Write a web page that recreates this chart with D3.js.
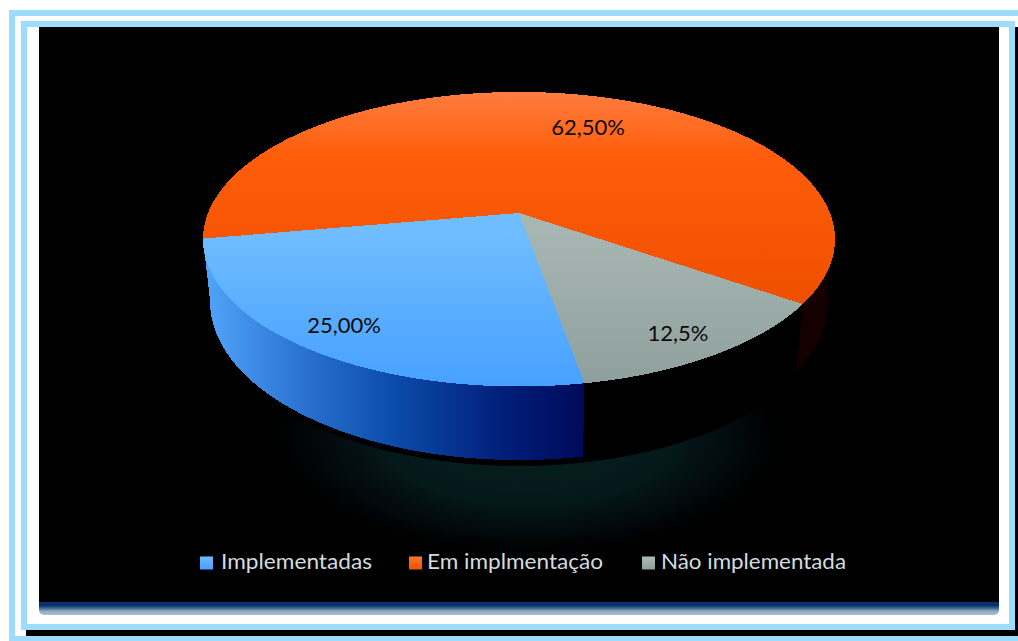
<!DOCTYPE html>
<html>
<head>
<meta charset="utf-8">
<script src="https://cdn.jsdelivr.net/npm/d3@7"></script>
<style>html,body{margin:0;padding:0;background:#fff;overflow:hidden}svg{display:block}</style>
</head>
<body>
<svg id="chart" width="1018" height="641"></svg>
<script>
const categories = ["Implementadas", "Em implmentação", "Não implementada"];
const shares = [25, 62.5, 12.5];
const valueLabels = ["25,00%", "62,50%", "12,5%"];

const W = 1018, H = 641;
const svg = d3.select("#chart");
const defs = svg.append("defs");
const deg = Math.PI / 180;

/* Page frame: two nested pale blue bands around a black panel */
const frameBlue = "#9edcff";
svg.append("rect").attr("width", W).attr("height", H).attr("fill", "#fff");
[
  [9, 10, 1009, 6], [9, 10, 6, 631], [15, 636, 1003, 5],
  [21, 21, 994, 6], [21, 21, 6, 609], [21, 624, 994, 6], [1009, 21, 6, 609]
].forEach(([x, y, w, h]) =>
  svg.append("rect").attr("x", x).attr("y", y).attr("width", w).attr("height", h).attr("fill", frameBlue));
svg.append("rect").attr("x", 26).attr("y", 630).attr("width", 992).attr("height", 6).attr("fill", "#000");
svg.append("rect").attr("x", 1015).attr("y", 27).attr("width", 3).attr("height", 609).attr("fill", "#000");

/* Panel drop shadow */
const shadow = defs.append("linearGradient").attr("id", "panelShadow").attr("x1", 0).attr("x2", 0).attr("y1", 0).attr("y2", 1);
[[0, "#052a66"], [0.5, "#0a3272"], [0.65, "#47698f"], [0.8, "#8fabbf"], [1, "#a9c0cf"]].forEach(([o, c]) =>
  shadow.append("stop").attr("offset", o).attr("stop-color", c));
svg.append("rect").attr("x", 39).attr("y", 596).attr("width", 960).attr("height", 19)
  .attr("rx", 5).attr("fill", "url(#panelShadow)");
svg.append("rect").attr("x", 39).attr("y", 27).attr("width", 960).attr("height", 575).attr("fill", "#000");

/* Perspective disc: a unit circle projected towards the viewer */
const tilt = 0.178;
function rim(cx, y0, a, b) {
  return angle => {
    const u = Math.sin(angle), v = -Math.cos(angle), d = 1 - tilt * v;
    return [cx + a * u / d, y0 + b * v / d];
  };
}
const topRim = rim(519, 213, 311, 142.6);
const lowRim = rim(519, 273.3, 304, 153.5);

const pieLayout = d3.pie().sort(null).startAngle(170 * deg).endAngle(530 * deg);
const slices = pieLayout(shares);
const line = d3.line();
const arcSamples = (s, e) => d3.range(0, 121).map(i => s + (e - s) * i / 120);

/* Soft teal glow on the floor below the disc */
const glow = defs.append("radialGradient").attr("id", "floorGlow");
[[0, "#06201f", 1], [0.55, "#051a1c", 0.95], [0.8, "#030c10", 0.7], [1, "#000", 0]].forEach(([o, c, a]) =>
  glow.append("stop").attr("offset", o).attr("stop-color", c).attr("stop-opacity", a));
svg.append("ellipse").attr("cx", 530).attr("cy", 435).attr("rx", 265).attr("ry", 125).attr("fill", "url(#floorGlow)");
svg.append("path")
  .attr("d", line(arcSamples(0, 2 * Math.PI).map(t => { const p = lowRim(t); return [p[0], p[1] + 6]; })) + "Z")
  .attr("fill", "#000");

/* Side walls; only the right-hand stretch of the long slice's wall can show */
defs.append("clipPath").attr("id", "rightHalf").append("rect")
  .attr("x", 519).attr("y", 27).attr("width", 480).attr("height", 575);
const blueWall = defs.append("linearGradient").attr("id", "wall0").attr("gradientUnits", "userSpaceOnUse")
  .attr("x1", 210).attr("x2", 584).attr("y1", 0).attr("y2", 0);
[[0, "#4fa2f7"], [0.25, "#2a72d0"], [0.5, "#0b4aa8"], [0.78, "#001f7a"], [1, "#000a5a"]].forEach(([o, c]) =>
  blueWall.append("stop").attr("offset", o).attr("stop-color", c));
const wallFills = ["url(#wall0)", "#140000", "#000"];
slices.forEach((d, i) => {
  const ts = arcSamples(d.startAngle, d.endAngle);
  const outline = ts.map(topRim).concat(ts.slice().reverse().map(lowRim));
  const wall = svg.append("path").attr("d", line(outline) + "Z").attr("fill", wallFills[i])
    .attr("shape-rendering", "crispEdges");
  if (i === 1) wall.attr("clip-path", "url(#rightHalf)");
});

/* Top faces */
const faceStops = [
  [[0, "#6fbcff"], [1, "#47a1ff"]],
  [[0, "#ff7c40"], [0.3, "#ff5d0a"], [1, "#ee4f00"]],
  [[0, "#a9b8b5"], [1, "#8fa09c"]]
];
const faceRange = [[235, 385], [92, 305], [215, 385]];
slices.forEach((d, i) => {
  const g = defs.append("linearGradient").attr("id", "face" + i).attr("gradientUnits", "userSpaceOnUse")
    .attr("x1", 0).attr("x2", 0).attr("y1", faceRange[i][0]).attr("y2", faceRange[i][1]);
  faceStops[i].forEach(([o, c]) => g.append("stop").attr("offset", o).attr("stop-color", c));
  const pts = [[519, 213]].concat(arcSamples(d.startAngle, d.endAngle).map(topRim));
  svg.append("path").attr("d", line(pts) + "Z").attr("fill", `url(#face${i})`)
    .attr("shape-rendering", "crispEdges");
});

/* Value labels */
const labelAt = [[344, 326], [588, 128], [678, 334]];
valueLabels.forEach((t, i) => {
  svg.append("text").attr("x", labelAt[i][0]).attr("y", labelAt[i][1] + 7)
    .attr("text-anchor", "middle").attr("font-family", "Lato").attr("font-size", 22)
    .attr("fill", "#0a0a0a").text(t);
});

/* Legend */
const swatchFill = ["url(#sw0)", "url(#sw1)", "url(#sw2)"];
const swatchStops = [["#70bbff", "#479fff"], ["#ff7630", "#f05000"], ["#aebcb9", "#8c9e9a"]];
swatchStops.forEach((c, i) => {
  const g = defs.append("linearGradient").attr("id", "sw" + i).attr("x1", 0).attr("x2", 0).attr("y1", 0).attr("y2", 1);
  g.append("stop").attr("offset", 0).attr("stop-color", c[0]);
  g.append("stop").attr("offset", 1).attr("stop-color", c[1]);
});
const legendX = [200, 409, 642];
const legendTextX = [221, 427, 661];
const legendWidth = [151, 176, 185];
categories.forEach((c, i) => {
  svg.append("rect").attr("x", legendX[i]).attr("y", 556.5).attr("width", 13).attr("height", 13).attr("fill", swatchFill[i]);
  svg.append("text").attr("x", legendTextX[i]).attr("y", 569)
    .attr("font-family", "Lato").attr("font-size", 20.5).attr("fill", "#d3dcdc")
    .attr("textLength", legendWidth[i]).attr("lengthAdjust", "spacingAndGlyphs").text(c);
});
</script>
</body>
</html>
